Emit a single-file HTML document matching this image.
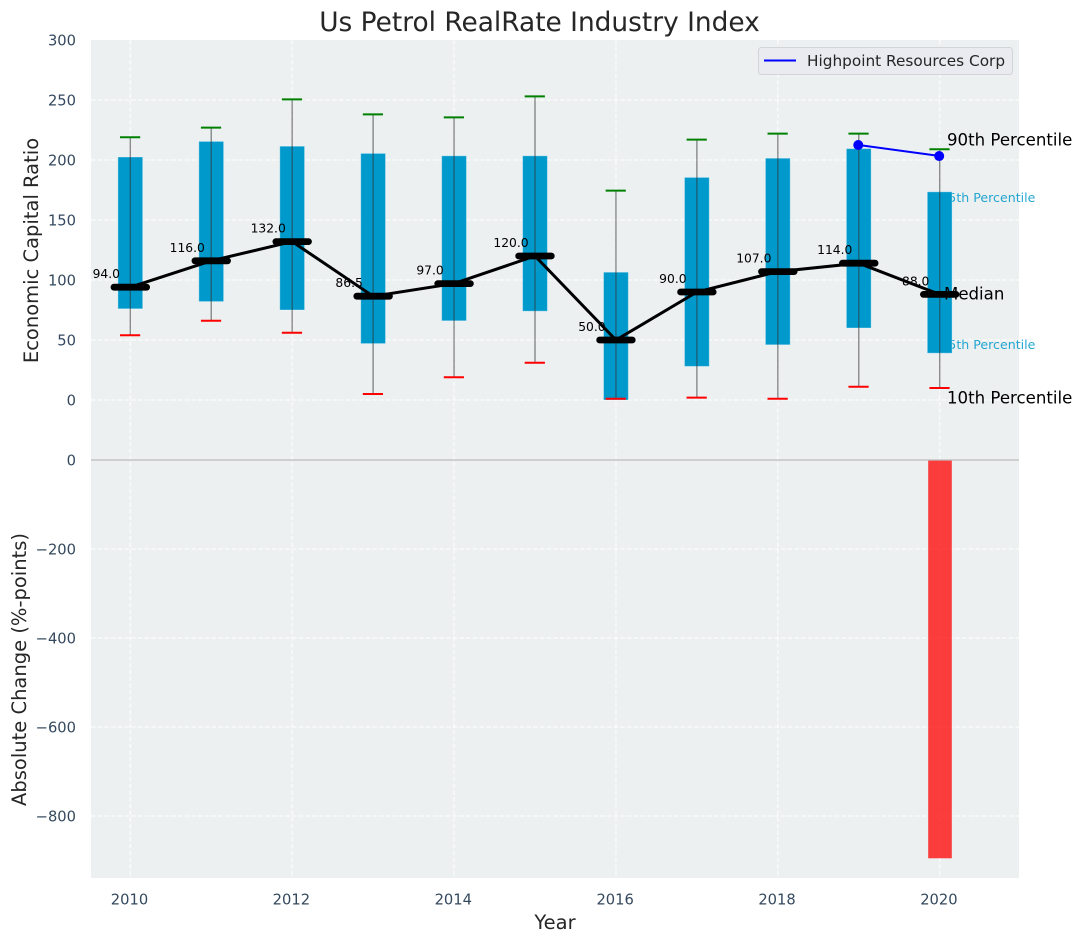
<!DOCTYPE html>
<html lang="en">
<head>
<meta charset="utf-8">
<title>Us Petrol RealRate Industry Index</title>
<style>
html,body{margin:0;padding:0;background:#fff;width:1082px;height:942px;overflow:hidden}
svg{display:block}
text{font-family:"DejaVu Sans","Liberation Sans",sans-serif}
</style>
</head>
<body>
<svg id="chart" xmlns="http://www.w3.org/2000/svg" width="1082" height="942" viewBox="0 0 1082 942">
<rect x="91" y="40" width="928" height="420" fill="#ecf0f1"/>
<rect x="91" y="460" width="928" height="418" fill="#ecf0f1"/>
<g id="grid"></g>
<g id="under"></g>
<g id="bars"></g>
<g id="boxes"></g>
<g id="marks"></g>
<line x1="91" y1="460" x2="1019" y2="460" stroke="#bdbdbd" stroke-width="1.3"/>
<g id="ticks"></g>
<text x="539.5" y="31" text-anchor="middle" font-size="26.4" fill="#262626">Us Petrol RealRate Industry Index</text>
<text transform="translate(38,250.5) rotate(-90)" text-anchor="middle" font-size="19.5" fill="#262626">Economic Capital Ratio</text>
<text transform="translate(26,669.5) rotate(-90)" text-anchor="middle" font-size="19.5" fill="#262626">Absolute Change (%-points)</text>
<text x="555" y="929" text-anchor="middle" font-size="19.5" fill="#262626">Year</text>
<g>
<rect x="758.5" y="47.5" width="254" height="27" rx="3" fill="#e9ebf0" stroke="#d2d4d8" stroke-width="1"/>
<line x1="764" y1="60.5" x2="796" y2="60.5" stroke="#0000ff" stroke-width="2"/>
<text x="807" y="66" font-size="15.3" fill="#262626">Highpoint Resources Corp</text>
</g>
</svg>
<script>
const years = [2010, 2011, 2012, 2013, 2014, 2015, 2016, 2017, 2018, 2019, 2020];
const p10 = [54, 66, 56, 5, 19, 31, 1, 2, 1, 11, 10];
const p25 = [76, 82, 75, 47, 66, 74, 0, 28, 46, 60, 39];
const medians = [94, 116, 132, 86.5, 97, 120, 50, 90, 107, 114, 88];
const p75 = [202.5, 215.5, 211.5, 205.5, 203.5, 203.5, 106.5, 185.5, 201.5, 209.5, 173.5];
const p90 = [219, 227, 250.5, 238, 235.5, 253, 174.5, 217, 222, 222, 209];
const companyYears = [2019, 2020];
const companyValues = [212.5, 203.3];
const changeYears = [2020];
const changeValues = [-895];
const upperTicks = [0, 50, 100, 150, 200, 250, 300];
const lowerTicks = [0, -200, -400, -600, -800];
const xTicks = [2010, 2012, 2014, 2016, 2018, 2020];

const NS = 'http://www.w3.org/2000/svg';
const xPos = v => 130.3 + (v - 2010) * 80.94;
const yUp = v => 400 - v * 1.2;
const yLow = v => 460 - v * 0.445;

function make(parent, tag, attrs, content) {
  const el = document.createElementNS(NS, tag);
  for (const k in attrs) el.setAttribute(k, attrs[k]);
  if (content !== undefined) el.textContent = content;
  document.getElementById(parent).appendChild(el);
  return el;
}
function fmt(v) {
  return String(v).replace('-', '\u2212');
}

// Grid lines
xTicks.forEach(t => {
  const g = make('grid', 'line', {x1: xPos(t), x2: xPos(t), y1: 40, y2: 878, stroke: '#ffffff', 'stroke-width': 1.2, 'stroke-dasharray': '4.5 2.2', opacity: 0.85});
  
  
  const lab = make('ticks', 'text', {x: xPos(t) - 0.8, y: 904.5, 'text-anchor': 'middle', 'font-size': 14.7, fill: '#34495e'}, String(t));
  
  
});
upperTicks.forEach(t => {
  if (t < 300) {
    const g = make('grid', 'line', {x1: 91, x2: 1019, y1: yUp(t), y2: yUp(t), stroke: '#ffffff', 'stroke-width': 1.2, 'stroke-dasharray': '4.5 2.2', opacity: 0.85});
    
    
  }
  const lab = make('ticks', 'text', {x: 76, y: yUp(t) + 5.3, 'text-anchor': 'end', 'font-size': 14.7, fill: '#34495e'}, fmt(t));
  
  
});
lowerTicks.forEach(t => {
  if (t < 0) {
    const g = make('grid', 'line', {x1: 91, x2: 1019, y1: yLow(t), y2: yLow(t), stroke: '#ffffff', 'stroke-width': 1.2, 'stroke-dasharray': '4.5 2.2', opacity: 0.85});
    
    
  }
  const lab = make('ticks', 'text', {x: 76, y: yLow(t) + 5.3, 'text-anchor': 'end', 'font-size': 14.7, fill: '#34495e'}, fmt(t));
  
  
});

// Percentile annotations hidden partly behind the last box
const last = years.length - 1;
const lab75 = make('under', 'text', {x: xPos(years[last]) + 0.6, y: yUp(p75[last]) + 10, 'font-size': 12.6, fill: '#0099cc', opacity: 0.85}, '75th Percentile');


const lab25 = make('under', 'text', {x: xPos(years[last]) + 0.6, y: yUp(p25[last]) - 4, 'font-size': 12.6, fill: '#0099cc', opacity: 0.85}, '25th Percentile');



// Absolute change bars
changeYears.forEach((yr, i) => {
  const b = make('bars', 'rect', {x: xPos(yr) - 11.5, width: 23.6, y: yLow(0), height: yLow(changeValues[i]) - yLow(0), fill: '#ff0000', opacity: 0.75});
  
  
});

// Boxes and whiskers
years.forEach((yr, i) => {
  const x = xPos(yr);
  const box = make('boxes', 'rect', {x: x - 12.4, width: 24.8, y: yUp(p75[i]), height: yUp(p25[i]) - yUp(p75[i]), fill: '#0099cc', stroke: '#ffffff', 'stroke-opacity': 0.35, 'stroke-width': 1});
  
  
  const w = make('boxes', 'line', {x1: x, x2: x, y1: yUp(p90[i]), y2: yUp(p10[i]), stroke: '#333333', 'stroke-opacity': 0.55, 'stroke-width': 1.4});
  
  
  const hi = make('boxes', 'line', {x1: x - 10.3, x2: x + 9.9, y1: yUp(p90[i]), y2: yUp(p90[i]), stroke: '#008000', 'stroke-width': 2});
  
  
  const lo = make('boxes', 'line', {x1: x - 10.3, x2: x + 9.9, y1: yUp(p10[i]), y2: yUp(p10[i]), stroke: '#ff0000', 'stroke-width': 2});
  
  
});

// End-of-series annotations (drawn before the median bars)
const lab90 = make('marks', 'text', {x: 947, y: 145.3, 'font-size': 16.6, fill: '#000000'}, '90th Percentile');


const labMedian = make('marks', 'text', {x: 944, y: 299.3, 'font-size': 16.6, fill: '#000000'}, 'Median');


const lab10 = make('marks', 'text', {x: 947, y: 403.3, 'font-size': 16.6, fill: '#000000'}, '10th Percentile');



// Median value labels sit beneath the trend line
years.forEach((yr, i) => {
  const t = make('marks', 'text', {x: xPos(yr) - 24, y: yUp(medians[i]) - 9, 'text-anchor': 'middle', 'font-size': 12.3, fill: '#000000'}, medians[i].toFixed(1));
  
  
});

// Median trend line and median bars
const medianLine = make('marks', 'polyline', {points: years.map((yr, i) => xPos(yr) + ',' + yUp(medians[i])).join(' '), fill: 'none', stroke: '#000000', 'stroke-width': 3});


years.forEach((yr, i) => {
  const x = xPos(yr);
  const m = make('marks', 'line', {x1: x - 16.3, x2: x + 16.3, y1: yUp(medians[i]), y2: yUp(medians[i]), stroke: '#000000', 'stroke-width': 6.8, 'stroke-linecap': 'round'});
  
  
});

// Company series
const companyLine = make('marks', 'polyline', {points: companyYears.map((yr, i) => xPos(yr) + ',' + yUp(companyValues[i])).join(' '), fill: 'none', stroke: '#0000ff', 'stroke-width': 2});


companyYears.forEach((yr, i) => {
  const c = make('marks', 'circle', {cx: xPos(yr) - 0.5, cy: yUp(companyValues[i]), r: 5, fill: '#0000ff'});
  
  
});
</script>
</body>
</html>
